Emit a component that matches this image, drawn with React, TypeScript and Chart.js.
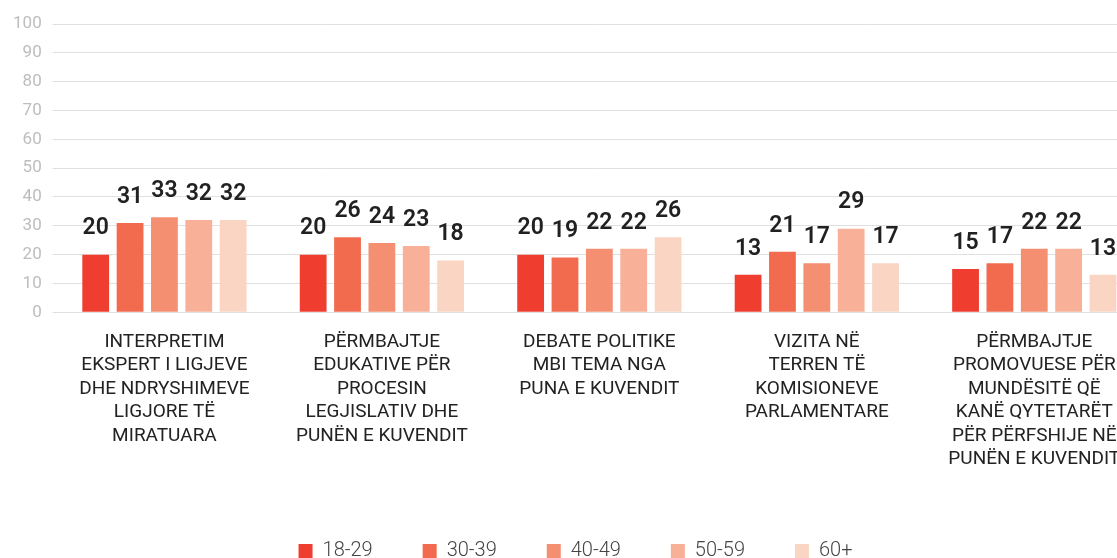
import { useEffect, useRef } from 'react';
import { Chart, registerables } from 'chart.js';

Chart.register(...registerables);

const categoryLabels: string[][] = [
  ['INTERPRETIM', 'EKSPERT I LIGJEVE', 'DHE NDRYSHIMEVE', 'LIGJORE TË', 'MIRATUARA'],
  ['PËRMBAJTJE', 'EDUKATIVE PËR', 'PROCESIN', 'LEGJISLATIV DHE', 'PUNËN E KUVENDIT'],
  ['DEBATE POLITIKE', 'MBI TEMA NGA', 'PUNA E KUVENDIT'],
  ['VIZITA NË', 'TERREN TË', 'KOMISIONEVE', 'PARLAMENTARE'],
  ['PËRMBAJTJE', 'PROMOVUESE PËR', 'MUNDËSITË QË', 'KANË QYTETARËT', 'PËR PËRFSHIJE NË', 'PUNËN E KUVENDIT'],
];

const ageGroups = ['18-29', '30-39', '40-49', '50-59', '60+'];

const values18to29 = [20, 20, 20, 13, 15];
const values30to39 = [31, 26, 19, 21, 17];
const values40to49 = [33, 24, 22, 17, 22];
const values50to59 = [32, 23, 22, 29, 22];
const values60plus = [32, 18, 26, 17, 13];

const seriesValues = [values18to29, values30to39, values40to49, values50to59, values60plus];
const seriesColors = ['#ef3e2f', '#f26b4e', '#f58f71', '#f8b198', '#fad5c3'];

const yMin = 0;
const yMax = 100;
const yStep = 10;

const valueLabels = {
  id: 'valueLabels',
  afterDatasetsDraw(chart: any) {
    const ctx = chart.ctx;
    ctx.save();
    ctx.font = '600 23px Roboto';
    ctx.fillStyle = '#212121';
    ctx.textAlign = 'center';
    ctx.textBaseline = 'middle';
    chart.data.datasets.forEach((ds: any, i: number) => {
      const meta = chart.getDatasetMeta(i);
      meta.data.forEach((bar: any, j: number) => {
        ctx.fillText(String(ds.data[j]), bar.x, bar.y - 26);
      });
    });
    ctx.restore();
  },
};

export default function App() {
  const canvasRef = useRef<HTMLCanvasElement | null>(null);

  useEffect(() => {
    if (!canvasRef.current) return;
    const chart = new Chart(canvasRef.current, {
      type: 'bar',
      data: {
        labels: categoryLabels,
        datasets: ageGroups.map((g, i) => ({
          label: g,
          data: seriesValues[i],
          backgroundColor: seriesColors[i],
          borderWidth: 0,
          categoryPercentage: 0.79,
          barPercentage: 0.78,
        })),
      },
      options: {
        responsive: false,
        animation: false,
        devicePixelRatio: 1,
        layout: { padding: { top: 16, left: 0, right: 5, bottom: -13 } },
        plugins: {
          legend: {
            position: 'bottom',
            align: 'center',
            labels: {
              boxWidth: 14,
              boxHeight: 14,
              padding: 50,
              color: '#444444',
              font: { family: 'Roboto', size: 20, weight: '300' },
            },
          },
          tooltip: { enabled: false },
        },
        scales: {
          x: {
            grid: { display: false, drawTicks: false },
            border: { display: false },
            ticks: {
              autoSkip: false,
              maxRotation: 0,
              minRotation: 0,
              padding: 18,
              color: '#222222',
              font: { family: 'Roboto', size: 19, lineHeight: 1.237 },
            },
            afterFit: (s: any) => {
              s.height = 178.7;
            },
          },
          y: {
            min: yMin,
            max: yMax,
            ticks: {
              stepSize: yStep,
              padding: 11,
              color: '#bdbdbd',
              font: { family: 'Roboto', size: 17 },
            },
            grid: { color: '#e0e0e0', tickLength: 3, drawTicks: true },
            border: { display: false },
            afterFit: (s: any) => {
              s.width = 47.7;
              s.paddingTop = 8;
              s.paddingBottom = 8;
            },
          },
        },
      },
      plugins: [valueLabels],
    } as any);
    return () => chart.destroy();
  }, []);

  return (
    <div
      style={{
        width: 1117,
        height: 558,
        overflow: 'hidden',
        paddingLeft: 8,
        paddingTop: 8,
        boxSizing: 'border-box',
        background: '#ffffff',
      }}
    >
      <style>{'html,body{margin:0;padding:0;overflow:hidden;}'}</style>
      <canvas
        ref={canvasRef}
        width={1140}
        height={550}
        style={{ display: 'block', width: 1140, height: 550 }}
      />
    </div>
  );
}
